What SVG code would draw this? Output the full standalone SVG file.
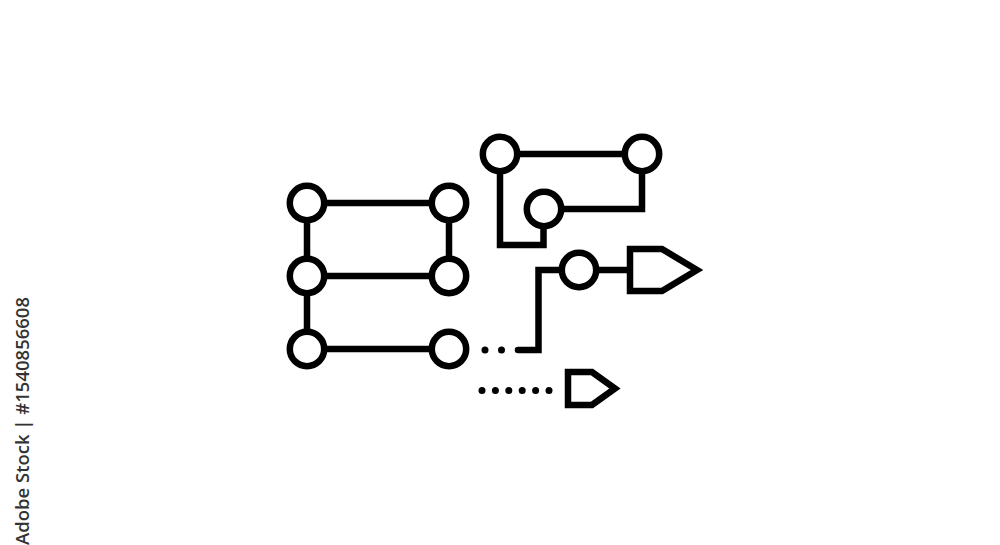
<svg xmlns="http://www.w3.org/2000/svg" width="1000" height="545" viewBox="0 0 1000 545">
<style>
.ln{fill:none;stroke:#000;stroke-width:6.5;stroke-linejoin:miter;stroke-linecap:round}
.nd{fill:#fff;stroke:#000;stroke-width:6.5}
.dot{fill:#000}
.wm{font-family:"Open Sans","Noto Sans",sans-serif;font-size:18px;font-weight:600;fill:#333}
</style>
<rect width="1000" height="545" fill="#fff"/>
<g id="connectors">
<path class="ln" d="M307,203 V349"/>
<path class="ln" d="M307,203 H449 V276"/>
<path class="ln" d="M307,276 H449"/>
<path class="ln" d="M307,349 H449"/>
<path class="ln" d="M500,154 H642 V209 H544"/>
<path class="ln" d="M500,154 V245 H543.5 V209" style="stroke-linecap:butt"/>
<path class="ln" d="M579,270 H630"/>
<path class="ln" d="M579,270 H538.5 V350 H518"/>
<g id="dots1">
<circle class="dot" cx="485" cy="350" r="3.5"/>
<circle class="dot" cx="501.5" cy="350" r="3.5"/>
</g>
<g id="dots2">
<circle class="dot" cx="482" cy="390.5" r="3.5"/>
<circle class="dot" cx="495.4" cy="390.5" r="3.5"/>
<circle class="dot" cx="508.8" cy="390.5" r="3.5"/>
<circle class="dot" cx="522.2" cy="390.5" r="3.5"/>
<circle class="dot" cx="535.6" cy="390.5" r="3.5"/>
<circle class="dot" cx="549" cy="390.5" r="3.5"/>
</g>
</g>
<g id="n1"><circle class="nd" cx="307" cy="203" r="17.2"/></g>
<g id="n2"><circle class="nd" cx="449" cy="203" r="17.2"/></g>
<g id="n3"><circle class="nd" cx="307" cy="276" r="17.2"/></g>
<g id="n4"><circle class="nd" cx="449" cy="276" r="17.2"/></g>
<g id="n5"><circle class="nd" cx="307" cy="349" r="17.2"/></g>
<g id="n6"><circle class="nd" cx="449" cy="349" r="17.2"/></g>
<g id="n7"><circle class="nd" cx="500" cy="154" r="17.2"/></g>
<g id="n8"><circle class="nd" cx="642" cy="154" r="17.2"/></g>
<g id="n9"><circle class="nd" cx="544" cy="209" r="17.2"/></g>
<g id="n10"><circle class="nd" cx="579" cy="270" r="17.2"/></g>
<g id="flag1"><path class="nd" d="M630,249 H662 L697,270 L662,291 H630 Z"/></g>
<g id="flag2"><path class="nd" d="M568,372 H592 L615,388.5 L592,405 H568 Z"/></g>
<g id="credit"><text class="wm" transform="translate(28.5,545) rotate(-90)" x="0" y="0" textLength="248" lengthAdjust="spacingAndGlyphs">Adobe Stock | #1540856608</text></g>
</svg>
